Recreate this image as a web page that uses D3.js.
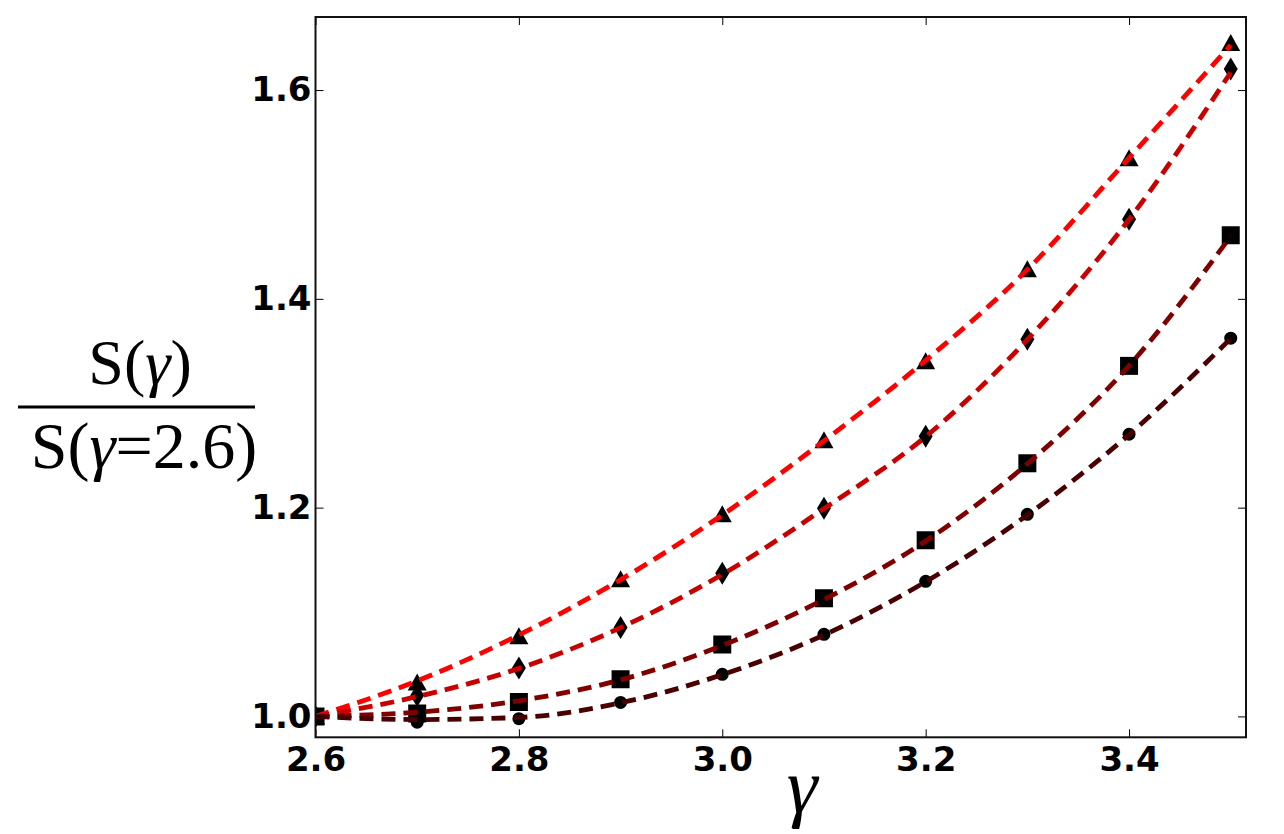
<!DOCTYPE html>
<html>
<head>
<meta charset="utf-8">
<script src="https://cdn.jsdelivr.net/npm/d3@7"></script>
<style>
  body { margin: 0; background: #fff; }
  .tick text { font-family: "DejaVu Sans", sans-serif; font-weight: bold; font-size: 34px; fill: #000; }
</style>
</head>
<body>
<div id="my_dataviz"></div>
<script>
// gamma values (x)
var gammas = [2.6, 2.7, 2.8, 2.9, 3.0, 3.1, 3.2, 3.3, 3.4, 3.5];
var xTicks = [2.6, 2.8, 3.0, 3.2, 3.4];
var yTicks = [1.0, 1.2, 1.4, 1.6];

// marker values
var triVals  = [1.0, 1.0326, 1.0767, 1.1313, 1.1936, 1.2645, 1.3403, 1.4284, 1.5348, 1.645];
var diaVals  = [1.0, 1.0201, 1.0463, 1.0853, 1.1371, 1.1994, 1.2684, 1.3613, 1.4762, 1.6201];
var sqVals   = [1.0, 1.0029, 1.0137, 1.0355, 1.069, 1.1131, 1.1687, 1.2425, 1.3358, 1.461];
var circVals = [1.0, 0.9945, 0.9978, 1.0134, 1.0403, 1.0786, 1.1294, 1.1936, 1.2703, 1.3623];

// dashed fit curves, read at the same gammas
var triFit  = [1.0, 1.034, 1.078, 1.131, 1.193, 1.264, 1.341, 1.428, 1.535, 1.643];
var diaFit  = [1.0, 1.019, 1.046, 1.085, 1.136, 1.199, 1.268, 1.361, 1.476, 1.617];
var sqFit   = [1.0, 1.004, 1.015, 1.035, 1.068, 1.112, 1.168, 1.242, 1.336, 1.46];
var circFit = [1.0, 0.997, 0.999, 1.013, 1.040, 1.078, 1.129, 1.193, 1.270, 1.362];

var seriesColors = ["#ff0000", "#c80000", "#800000", "#4a0000"];

var W = 1284, H = 834;
var pl = 315.5, pr = 1246, pt = 17, pb = 737.3;   // plot box

var svg = d3.select("#my_dataviz")
  .append("svg")
    .attr("width", W)
    .attr("height", H);

var x = d3.scaleLinear().domain([2.6, 3.515]).range([pl, pr]);
var y = d3.scaleLinear().domain([0.98, 1.67]).range([pb, pt]);

svg.append("defs").append("clipPath")
    .attr("id", "clip")
  .append("rect")
    .attr("x", pl).attr("y", pt)
    .attr("width", pr - pl).attr("height", pb - pt);

var series = [
  {shape: "tri", vals: triVals, fit: triFit, color: seriesColors[0]},
  {shape: "dia", vals: diaVals, fit: diaFit, color: seriesColors[1]},
  {shape: "sq", vals: sqVals, fit: sqFit, color: seriesColors[2]},
  {shape: "circ", vals: circVals, fit: circFit, color: seriesColors[3]}
];

function markerPath(shape) {
  if (shape == "tri") return "M0,-9L9.5,8L-9.5,8Z";
  if (shape == "dia") return "M0,-11.5L7,0L0,11.5L-7,0Z";
  if (shape == "sq") return "M-9,-9H9V9H-9Z";
  return d3.symbol().type(d3.symbolCircle).size(Math.PI * 6.5 * 6.5)();
}

var plot = svg.append("g").attr("clip-path", "url(#clip)");

// markers first, dashed lines go on top of them
series.forEach(function(s) {
  plot.append("g")
    .selectAll("path")
    .data(gammas)
    .enter()
    .append("path")
      .attr("transform", function(d, i) { return "translate(" + x(d) + "," + y(s.vals[i]) + ")"; })
      .attr("d", markerPath(s.shape))
      .attr("fill", "#000");
});

series.forEach(function(s) {
  plot.append("path")
    .datum(gammas)
    .attr("fill", "none")
    .attr("stroke", s.color)
    .attr("stroke-width", 4.8)
    .attr("stroke-dasharray", "14,8")
    .attr("d", d3.line()
      .curve(d3.curveMonotoneX)
      .x(function(d) { return x(d); })
      .y(function(d, i) { return y(s.fit[i]); })
    );
});

// axes, ticks pointing inwards
var fmt = d3.format(".1f");
svg.append("g")
  .attr("transform", "translate(0," + pb + ")")
  .call(d3.axisBottom(x).tickValues(xTicks).tickFormat(fmt).tickSize(-8).tickPadding(10));
svg.append("g")
  .attr("transform", "translate(0," + pt + ")")
  .call(d3.axisTop(x).tickValues(xTicks).tickFormat("").tickSize(-8));
svg.append("g")
  .attr("transform", "translate(" + pl + ",0)")
  .call(d3.axisLeft(y).tickValues(yTicks).tickFormat(fmt).tickSize(-8).tickPadding(4));
svg.append("g")
  .attr("transform", "translate(" + pr + ",0)")
  .call(d3.axisRight(y).tickValues(yTicks).tickFormat("").tickSize(-8));

svg.selectAll(".domain").remove();
svg.selectAll(".tick line").attr("stroke", "#000").attr("stroke-width", 1);

svg.append("rect")                      // frame
  .attr("x", pl).attr("y", pt)
  .attr("width", pr - pl).attr("height", pb - pt)
  .attr("fill", "none")
  .attr("stroke", "#111")
  .attr("stroke-width", 2);

// x label
svg.append("text")
  .attr("x", 802)
  .attr("y", 812)
  .attr("text-anchor", "middle")
  .style("font-family", "'Liberation Serif', serif")
  .style("font-style", "italic")
  .style("font-size", "78px")
  .text("γ");

// y label, a fraction
var num = svg.append("text")
  .attr("x", 140)
  .attr("y", 384)
  .attr("text-anchor", "middle")
  .style("font-family", "'Liberation Serif', serif")
  .style("font-size", "64px");
num.append("tspan").text("S(");
num.append("tspan").style("font-style", "italic").text("γ");
num.append("tspan").text(")");

svg.append("line")
  .attr("x1", 18).attr("x2", 255)
  .attr("y1", 407).attr("y2", 407)
  .attr("stroke", "#000")
  .attr("stroke-width", 3);

var den = svg.append("text")
  .attr("x", 144)
  .attr("y", 468)
  .attr("text-anchor", "middle")
  .style("font-family", "'Liberation Serif', serif")
  .style("font-size", "66px");
den.append("tspan").text("S(");
den.append("tspan").style("font-style", "italic").text("γ");
den.append("tspan").text("=2.6)");
</script>
</body>
</html>
